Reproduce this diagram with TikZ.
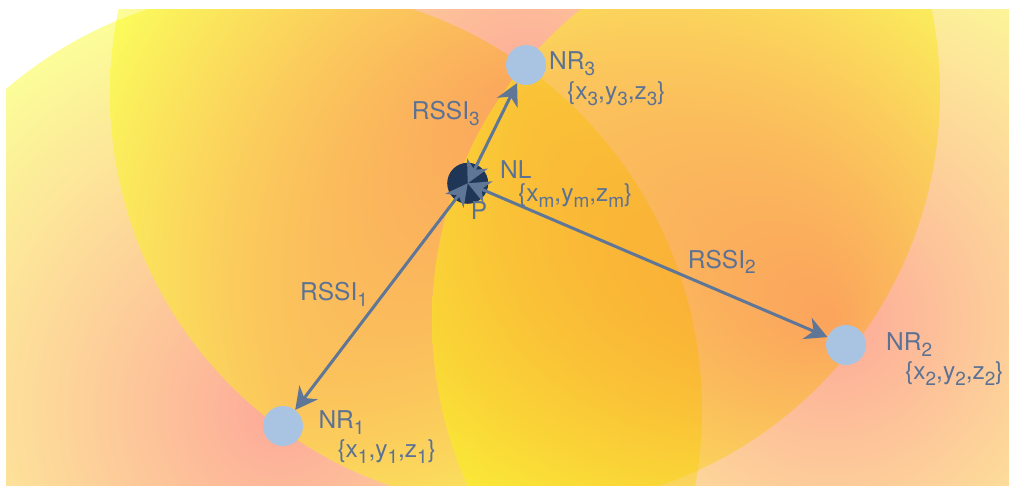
\documentclass[tikz,border=0pt]{standalone}
\usepackage{fontspec}
\setmainfont{TeX Gyre Heros}
\usetikzlibrary{arrows.meta}
\definecolor{cIn}{RGB}{250,40,0}
\definecolor{cOut}{RGB}{248,250,0}
\definecolor{lineC}{RGB}{95,118,150}
\definecolor{textC}{RGB}{92,114,148}
\definecolor{nrFill}{RGB}{169,196,226}
\definecolor{nlFill}{RGB}{31,54,86}
\newcommand{\sbs}[1]{\raisebox{-6pt}{\fontsize{19}{19}\selectfont #1}}
\begin{document}
\begin{tikzpicture}[x=1pt,y=1pt,
  zone/.style={inner color=cIn, outer color=cOut, fill opacity=0.4},
  relay/.style={circle, fill=nrFill, minimum size=40pt, inner sep=0pt},
  target/.style={circle, fill=nlFill, minimum size=41pt, inner sep=0pt},
  lbl/.style={text=textC, inner sep=0pt, anchor=base west, font=\fontsize{24.5}{28}\selectfont},
  link/.style={draw=lineC, line width=3pt, {Stealth[length=22pt,width=23pt,inset=7pt]}-{Stealth[length=22pt,width=23pt,inset=7pt]}}]
\useasboundingbox (0,0) rectangle (1009,488);
\begin{scope}
\clip (6,3) rectangle (1009,478);
\shade[zone] (280,78) circle[radius=422pt];
\shade[zone] (525,395) circle[radius=415pt];
\shade[zone] (831,168) circle[radius=399pt];
\end{scope}
\node[relay] (NR1) at (283,62) {};
\node[relay] (NR2) at (846,143) {};
\node[relay] (NR3) at (526,423) {};
\node[target] (NL) at (467.7,304.7) {};
\draw[link] (NR1) -- (NL.center);
\draw[link] (NR2) -- (NL.center);
\draw[link] (NR3) -- (NL.center);
\node[lbl] (tNR3) at (549,418) {NR\sbs{3}};
\node[lbl] (cNR3) at (567,388) {\{x\sbs{3},y\sbs{3},z\sbs{3}\}};
\node[lbl] (tNL) at (500,309.5) {NL};
\node[lbl] (cNL) at (518,286.5) {\{x\sbs{m},y\sbs{m},z\sbs{m}\}};
\node[lbl] (tP) at (470.7,269) {P};
\node[lbl] (r3) at (411.7,368) {RSSI\sbs{3}};
\node[lbl] (r1) at (300,187.3) {RSSI\sbs{1}};
\node[lbl] (tNR1) at (318.3,60) {NR\sbs{1}};
\node[lbl] (cNR1) at (337.3,30.7) {\{x\sbs{1},y\sbs{1},z\sbs{1}\}};
\node[lbl] (r2) at (687.7,220) {RSSI\sbs{2}};
\node[lbl] (tNR2) at (886,138) {NR\sbs{2}};
\node[lbl] (cNR2) at (905,109) {\{x\sbs{2},y\sbs{2},z\sbs{2}\}};
\end{tikzpicture}
\end{document}
